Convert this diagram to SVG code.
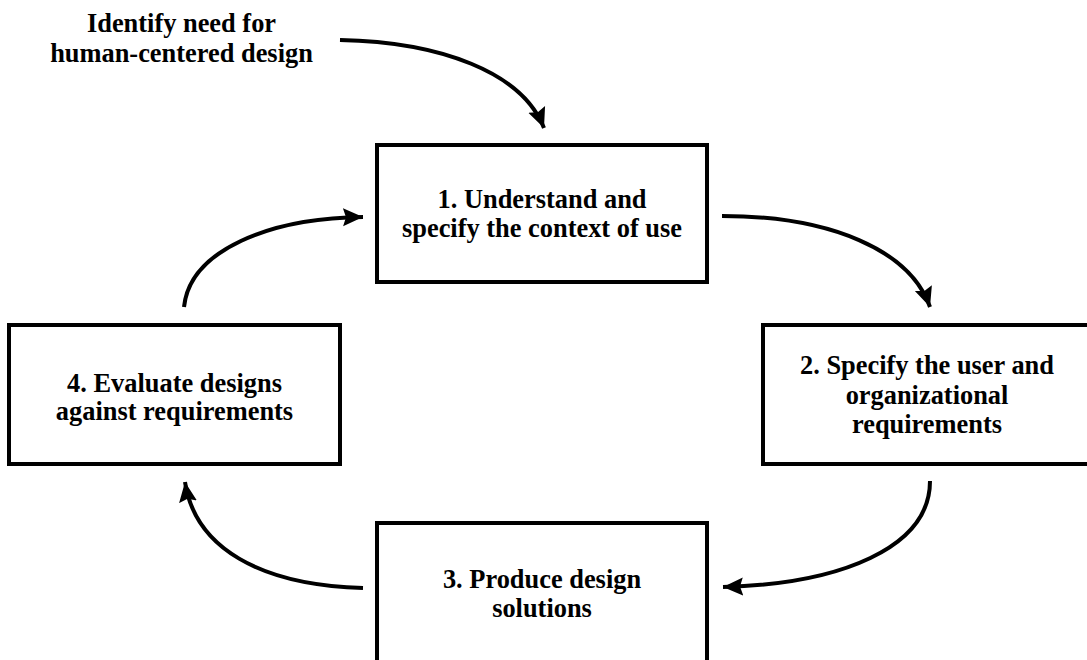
<svg xmlns="http://www.w3.org/2000/svg" width="1087" height="660" viewBox="0 0 1087 660">
<style>
.box{fill:#fff;stroke:#000;stroke-width:4}
.t{font-family:"Liberation Serif","Times New Roman",serif;font-weight:bold;font-size:26.4px;fill:#000;text-anchor:middle}
.c{fill:none;stroke:#000;stroke-width:4;stroke-linecap:butt}
</style>
<defs>
<marker id="ah" markerUnits="userSpaceOnUse" markerWidth="22" markerHeight="20" viewBox="0 0 22 20" refX="20" refY="10" orient="auto">
<path d="M0,1 L20,10 L0,19 L3,10 Z" fill="#000"/>
</marker>
</defs>
<rect width="1087" height="660" fill="#fff"/>
<g id="start-label">
<text class="t" x="181.5" y="32">Identify need for</text>
<text class="t" x="181.5" y="62">human-centered design</text>
</g>
<g id="node1">
<rect class="box" x="377" y="145" width="330" height="137"/>
<text class="t" x="542" y="208">1. Understand and</text>
<text class="t" x="542" y="237">specify the context of use</text>
</g>
<g id="node2">
<rect class="box" x="763" y="325" width="330" height="139"/>
<text class="t" x="927" y="374">2. Specify the user and</text>
<text class="t" x="927" y="404">organizational</text>
<text class="t" x="927" y="433">requirements</text>
</g>
<g id="node3">
<rect class="box" x="377" y="523" width="330" height="150"/>
<text class="t" x="542" y="588">3. Produce design</text>
<text class="t" x="542" y="617">solutions</text>
</g>
<g id="node4">
<rect class="box" x="9" y="325" width="331" height="139"/>
<text class="t" x="174.5" y="392">4. Evaluate designs</text>
<text class="t" x="174.5" y="420">against requirements</text>
</g>
<g id="connectors">
<path class="c" d="M340,40 C440,42 522,72 544,128" marker-end="url(#ah)"/>
<path class="c" d="M722,216 C830,216 910,250 930,307" marker-end="url(#ah)"/>
<path class="c" d="M930,481 C930,548 840,584 723,587" marker-end="url(#ah)"/>
<path class="c" d="M363,588 C260,585 195,548 185,482" marker-end="url(#ah)"/>
<path class="c" d="M184,307 C190,250 270,218 363,217" marker-end="url(#ah)"/>
</g>
</svg>
